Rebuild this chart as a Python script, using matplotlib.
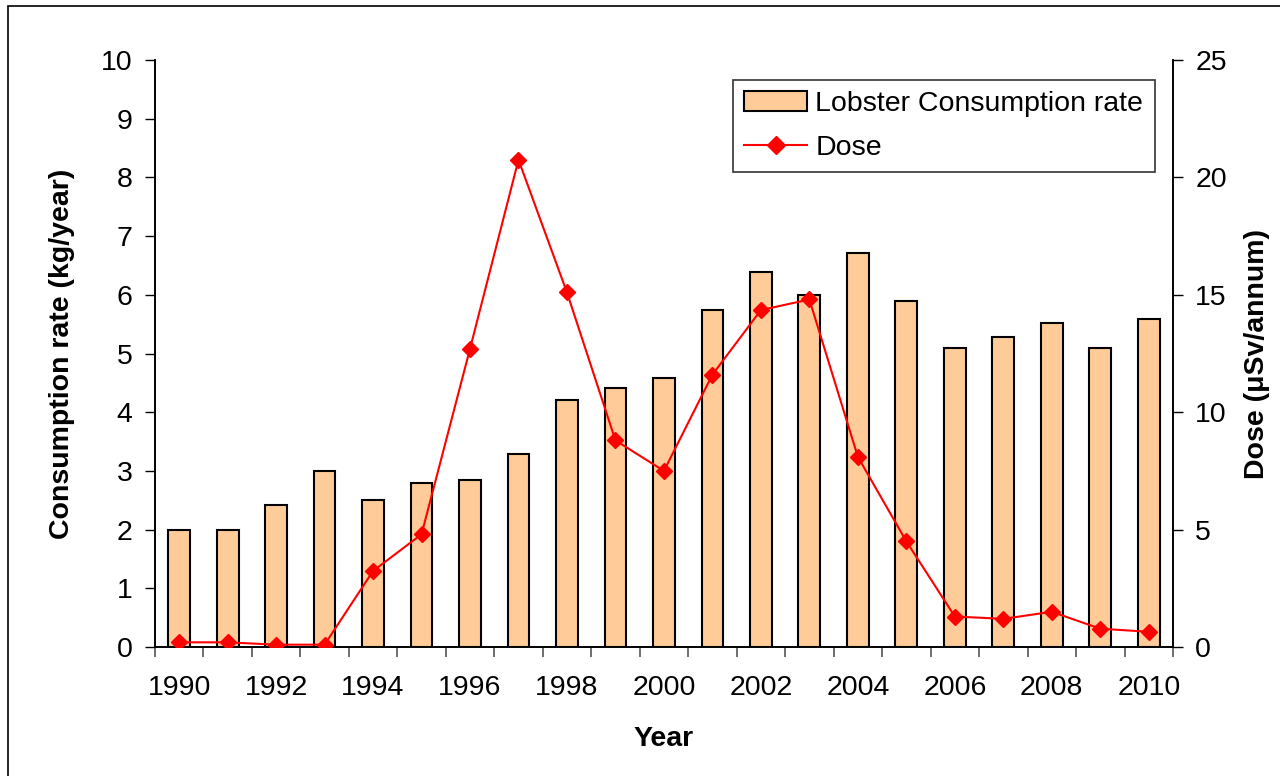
import matplotlib.pyplot as plt
import matplotlib.patches as mpatches
from matplotlib.lines import Line2D
import numpy as np

plt.rcParams['font.family'] = ['Liberation Sans', 'DejaVu Sans']

# data
years = list(range(1990, 2011))
consumption = [2.0, 2.0, 2.42, 3.0, 2.5, 2.8, 2.84, 3.28, 4.2, 4.42, 4.58,
               5.74, 6.38, 6.0, 6.72, 5.89, 5.1, 5.28, 5.52, 5.1, 5.58]
dose = [0.2, 0.2, 0.1, 0.1, 3.24, 4.8, 12.7, 20.75, 15.1, 8.8, 7.5,
        11.6, 14.35, 14.8, 8.1, 4.5, 1.3, 1.2, 1.5, 0.78, 0.65]
tick_years = [str(y) for y in years[::2]]

fig = plt.figure(figsize=(12.8, 7.76), dpi=100)
ax = fig.add_axes([0.121, 0.1662, 0.7954, 0.7565])
ax2 = ax.twinx()

x = np.arange(len(years))
ax.bar(x, consumption, width=0.45, color='#FFCC99', edgecolor='black',
       linewidth=1.5, zorder=2)
ax2.plot(x, dose, color='#FF0000', linewidth=1.5, marker='D',
         markersize=8, zorder=3)

fs = 20.5
ax.set_xlim(-0.5, len(years) - 0.5)
ax.set_ylim(0, 10)
ax.set_yticks(range(0, 11))
ax.tick_params(axis='y', labelsize=fs, length=7, width=1, pad=9)
ax2.set_ylim(0, 25)
ax2.set_yticks(range(0, 26, 5))
ax2.tick_params(axis='y', labelsize=fs, length=7, width=1, pad=9)

# category labels under every other bar, tick marks between categories
ax.set_xticks(x[::2])
ax.set_xticklabels(tick_years)
ax.tick_params(axis='x', which='major', length=0, labelsize=fs, pad=20)
ax.set_xticks(np.arange(-0.5, len(years), 1), minor=True)
ax.tick_params(axis='x', which='minor', length=7, width=1.2, color='#555555')

for a in (ax, ax2):
    a.spines['top'].set_visible(False)
    for s in ('left', 'right', 'bottom'):
        a.spines[s].set_linewidth(1.2)

ax.set_xlabel('Year', fontsize=fs, fontweight='bold', labelpad=18)
ax.set_ylabel('Consumption rate (kg/year)', fontsize=fs, fontweight='bold',
              labelpad=19)
ax2.set_ylabel('Dose (μSv/annum)', fontsize=fs, fontweight='bold', labelpad=12)

handles = [mpatches.Patch(facecolor='#FFCC99', edgecolor='black', linewidth=1.5),
           Line2D([], [], color='#FF0000', linewidth=1.5, marker='D', markersize=9)]
leg = ax2.legend(handles, ['Lobster Consumption rate', 'Dose'],
                 loc='upper right', bbox_to_anchor=(0.982, 0.966),
                 fontsize=fs, frameon=True, fancybox=False, borderpad=0.4,
                 handlelength=2.2, handletextpad=0.3, labelspacing=0.62,
                 borderaxespad=0)
leg.get_frame().set_edgecolor('black')
leg.get_frame().set_linewidth(1.2)

# outer chart border
fig.patches.append(mpatches.Rectangle((8 / 1280, -0.1), 1.2, 1 - 6 / 776 + 0.1,
                                      transform=fig.transFigure, fill=False,
                                      edgecolor='black', linewidth=1.2))

fig.savefig('out.png', dpi=100)
